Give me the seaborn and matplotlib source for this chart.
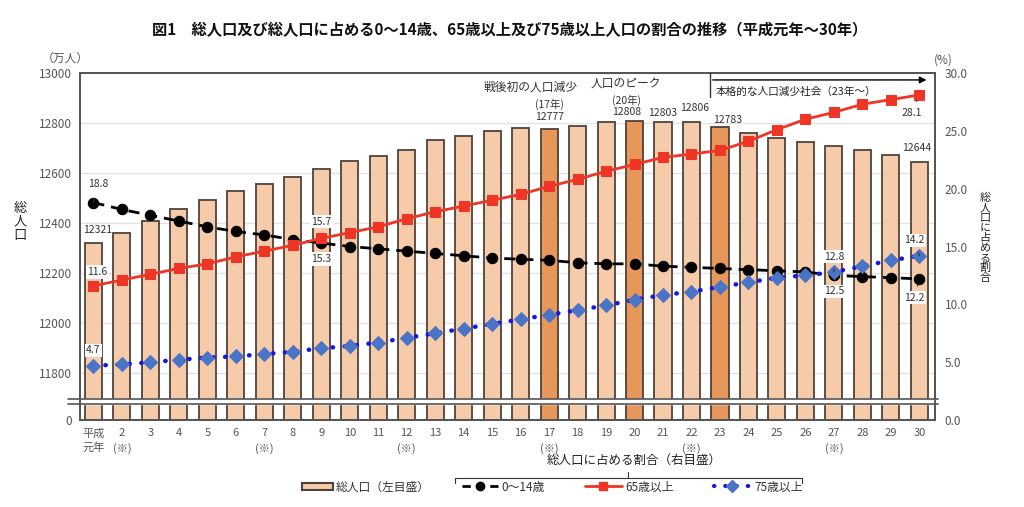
import numpy as np
import pandas as pd
import matplotlib
matplotlib.use("Agg")
import matplotlib.pyplot as plt
import matplotlib.transforms as mtransforms
from matplotlib.patches import Patch
from matplotlib.lines import Line2D
import seaborn as sns

sns.set_style("white")
plt.rcParams['font.family'] = ['Noto Sans CJK JP', 'DejaVu Sans']

# data (平成元年～30年)
years = list(range(1, 31))
census_years = [2, 7, 12, 17, 22, 27]
highlight_years = [17, 20, 23]
pop = [12321, 12361, 12410, 12457, 12494, 12527, 12557, 12586, 12616, 12647,
       12667, 12693, 12732, 12749, 12769, 12779, 12777, 12790, 12803, 12808,
       12803, 12806, 12783, 12759, 12741, 12724, 12709, 12693, 12671, 12644]
age0_14 = [18.8, 18.2, 17.7, 17.2, 16.7, 16.3, 16.0, 15.6, 15.3, 15.0,
           14.8, 14.6, 14.4, 14.2, 14.0, 13.9, 13.8, 13.6, 13.5, 13.5,
           13.3, 13.2, 13.1, 13.0, 12.9, 12.8, 12.5, 12.4, 12.3, 12.2]
age65 = [11.6, 12.1, 12.6, 13.1, 13.5, 14.1, 14.6, 15.1, 15.7, 16.2,
         16.7, 17.4, 18.0, 18.5, 19.0, 19.5, 20.2, 20.8, 21.5, 22.1,
         22.7, 23.0, 23.3, 24.1, 25.1, 26.0, 26.6, 27.3, 27.7, 28.1]
age75 = [4.7, 4.8, 5.0, 5.2, 5.4, 5.5, 5.7, 5.9, 6.2, 6.4,
         6.7, 7.1, 7.5, 7.9, 8.3, 8.7, 9.1, 9.5, 9.9, 10.4,
         10.8, 11.1, 11.5, 11.9, 12.3, 12.5, 12.8, 13.3, 13.8, 14.2]

tick_labels = []
for y in years:
    if y == 1:
        tick_labels.append("平成\n元年")
    elif y in census_years:
        tick_labels.append(f"{y}\n(※)")
    else:
        tick_labels.append(str(y))

LIGHT = "#F5CBAA"
DARK = "#E8975A"
EDGE = "#4f423b"
GREY = "#555555"

df = pd.DataFrame({"year": [str(y) for y in years], "pop": pop})
pal = {str(y): (DARK if y in highlight_years else LIGHT) for y in years}
idx = np.arange(len(years))

fig = plt.figure(figsize=(10.24, 5.07), dpi=100)
ax = fig.add_axes([80 / 1024, 1 - 420 / 507, 855 / 1024, 347 / 507])

sns.barplot(data=df, x="year", y="pop", hue="year", palette=pal, legend=False,
            width=0.6, edgecolor=EDGE, linewidth=1.3, saturation=1, ax=ax)
ax.set_xlim(-0.47, 29.55)
ymin = 11800 - 188
ax.set_ylim(ymin, 13000)
ax.set_yticks([ymin] + list(range(11800, 13001, 200)))
ax.set_yticklabels(["0"] + [str(v) for v in range(11800, 13001, 200)])
ax.set_xticks(idx)
ax.set_xticklabels(tick_labels, fontsize=8, color=GREY, linespacing=1.5)
ax.tick_params(axis="y", labelsize=8.5, colors=GREY, length=0, pad=6)
ax.tick_params(axis="x", length=0, pad=6)
ax.set_xlabel("")
ax.set_ylabel("")
ax.set_axisbelow(True)
ax.yaxis.grid(True, color="#e3e3e3", linewidth=1)
for s in ax.spines.values():
    s.set_color(GREY)
    s.set_linewidth(1.3)

ax2 = ax.twinx()
sns.lineplot(x=idx, y=age0_14, ax=ax2, color="black", linewidth=2,
             marker="o", markersize=7.5, markeredgecolor="black")
ax2.lines[-1].set_linestyle((0, (4, 2.5)))
sns.lineplot(x=idx, y=age65, ax=ax2, color="#EE3526", linewidth=2,
             marker="s", markersize=6.5, markeredgecolor="#EE3526")
sns.lineplot(x=idx, y=age75, ax=ax2, color="#1515E8", linewidth=3.2,
             marker="D", markersize=7, markerfacecolor="#4A74C6",
             markeredgecolor="#4A74C6")
ax2.lines[-1].set_linestyle((0, (0.1, 2.6)))
ax2.lines[-1].set_dash_capstyle("round")
ax2.set_ylim(0, 30)
ax2.set_yticks(np.arange(0, 30.1, 5))
ax2.set_yticklabels([f"{v:.1f}" for v in np.arange(0, 30.1, 5)])
ax2.tick_params(axis="y", labelsize=8.5, colors=GREY, length=0, pad=7)
ax2.set_xlim(-0.47, 29.55)
for s in ax2.spines.values():
    s.set_color(GREY)
    s.set_linewidth(1.3)

# axis break
trans = mtransforms.blended_transform_factory(ax2.transAxes, ax2.transData)
ax2.fill_between([0.002, 0.998], 1.38, 1.81, transform=trans, color="white", zorder=5)
for yb in (1.38, 1.81):
    ax2.plot([-0.014, 1.003], [yb, yb], transform=trans, color=GREY, lw=1.2,
             clip_on=False, zorder=6)

lab = dict(fontsize=7.5, color="#333333", ha="center", va="center")
box = dict(boxstyle="square,pad=0.15", fc="white", ec="none")


def note(a, i, v, dx, dy, text, leader=False, boxed=False):
    kw = dict(lab)
    if boxed:
        kw["bbox"] = box
    if leader:
        kw["arrowprops"] = dict(arrowstyle="-", color="#333333", lw=0.8,
                                shrinkA=4, shrinkB=4)
    a.annotate(text, xy=(i, v), xytext=(dx, dy), textcoords="offset points",
               zorder=10, **kw)


# population labels
note(ax, 0, pop[0], 3, 9.5, "12321")
note(ax, 16, pop[16], 0, 8.6, "12777")
note(ax, 19, pop[19], -5.8, 6.5, "12808")
note(ax, 20, pop[20], 0, 6.7, "12803")
note(ax, 21, pop[21], 2.5, 9.7, "12806")
note(ax, 22, pop[22], 5.8, 5, "12783")
note(ax, 29, pop[29], -2, 10, "12644")

ax.annotate("(17年)", xy=(16, pop[16]), xytext=(0, 17.5), textcoords="offset points",
            fontsize=7.5, color="#333333", ha="center", va="center")
ax.annotate("戦後初の人口減少", xy=(16, pop[16]), xytext=(-13.7, 30), textcoords="offset points",
            fontsize=8.5, color="#333333", ha="center", va="center")
ax.annotate("(20年)", xy=(19, pop[19]), xytext=(-5.8, 15), textcoords="offset points",
            fontsize=7.5, color="#333333", ha="center", va="center")
ax.annotate("人口のピーク", xy=(19, pop[19]), xytext=(-6.5, 26.6), textcoords="offset points",
            fontsize=8.5, color="#333333", ha="center", va="center")

# percentage labels
note(ax2, 0, age0_14[0], 3.6, 13, "18.8", leader=True)
note(ax2, 0, age65[0], 3, 10, "11.6", boxed=True)
note(ax2, 0, age75[0], 0, 11, "4.7", boxed=True)
note(ax2, 8, age65[8], 0, 12, "15.7", boxed=True)
note(ax2, 8, age0_14[8], 0, -11.5, "15.3", boxed=True)
note(ax2, 26, age75[26], 0, 11, "12.8", leader=True, boxed=True)
note(ax2, 26, age0_14[26], 0, -11.5, "12.5", boxed=True)
note(ax2, 29, age65[29], -5.8, -13, "28.1", leader=True, boxed=True)
note(ax2, 29, age75[29], -3.6, 11, "14.2", leader=True, boxed=True)
note(ax2, 29, age0_14[29], -3.6, -13.7, "12.2", leader=True, boxed=True)

# 本格的な人口減少社会 arrow
ax2.plot([21.65, 21.65], [27.9, 30], color="#333333", lw=1, zorder=6, clip_on=False)
ax2.annotate("", xy=(29.35, 29.4), xytext=(21.65, 29.4),
             arrowprops=dict(arrowstyle="-|>", color="black", lw=1, mutation_scale=10))
ax2.text(21.85, 28.35, "本格的な人口減少社会（23年～）", fontsize=7.7, color="#222222",
         ha="left", va="center", bbox=dict(fc="white", ec="none", pad=0.5))

# titles and axis labels
fig.text(510 / 1024, 1 - 30 / 507,
         "図1　総人口及び総人口に占める0～14歳、65歳以上及び75歳以上人口の割合の推移（平成元年～30年）",
         fontsize=11, fontweight="bold", ha="center", va="center", color="#111111")
fig.text(65 / 1024, 1 - 58 / 507, "（万人）", fontsize=8.5, color=GREY, ha="center", va="center")
fig.text(943 / 1024, 1 - 60 / 507, "(%)", fontsize=8.5, color=GREY, ha="center", va="center")
fig.text(20 / 1024, 1 - 222 / 507, "総\n人\n口", fontsize=9.5, color="#222222",
         ha="center", va="center", linespacing=1.05)
fig.text(985 / 1024, 1 - 238 / 507, "総\n人\n口\nに\n占\nめ\nる\n割\n合", fontsize=8,
         color="#222222", ha="center", va="center", linespacing=1.0)

# legend
fig.text(634 / 1024, 1 - 460 / 507, "総人口に占める割合（右目盛）", fontsize=9,
         color="#222222", ha="center", va="center")
for xs, ys in [([455, 802], [478, 478]), ([455, 455], [478, 483]),
               ([802, 802], [478, 483]), ([628, 628], [478, 472])]:
    fig.add_artist(Line2D([x / 1024 for x in xs], [1 - y / 507 for y in ys],
                          color="#333333", lw=0.8))

h_bar = Patch(facecolor=LIGHT, edgecolor=EDGE, linewidth=1.5, label="総人口（左目盛）")
h0 = Line2D([], [], color="black", lw=2, linestyle=(0, (3, 2)), marker="o",
            markersize=6, label="0～14歳")
h65 = Line2D([], [], color="#EE3526", lw=2, marker="s", markersize=6, label="65歳以上")
h75 = Line2D([], [], color="#1515E8", lw=3, linestyle=(0, (0.1, 2.6)),
             dash_capstyle="round", marker="D", markersize=6,
             markerfacecolor="#4A74C6", markeredgecolor="#4A74C6", label="75歳以上")
fig.legend(handles=[h_bar], loc="center", bbox_to_anchor=(366 / 1024, 1 - 487 / 507),
           frameon=False, fontsize=8.5, handlelength=2.6, handleheight=0.6,
           handletextpad=0.3, labelcolor="#333333")
fig.legend(handles=[h0, h65, h75], loc="center", ncol=3,
           bbox_to_anchor=(632 / 1024, 1 - 487 / 507), frameon=False,
           fontsize=8.5, handlelength=3.1, handletextpad=0.3, columnspacing=3.4,
           labelcolor="#333333")

fig.savefig("out.png", dpi=100)
